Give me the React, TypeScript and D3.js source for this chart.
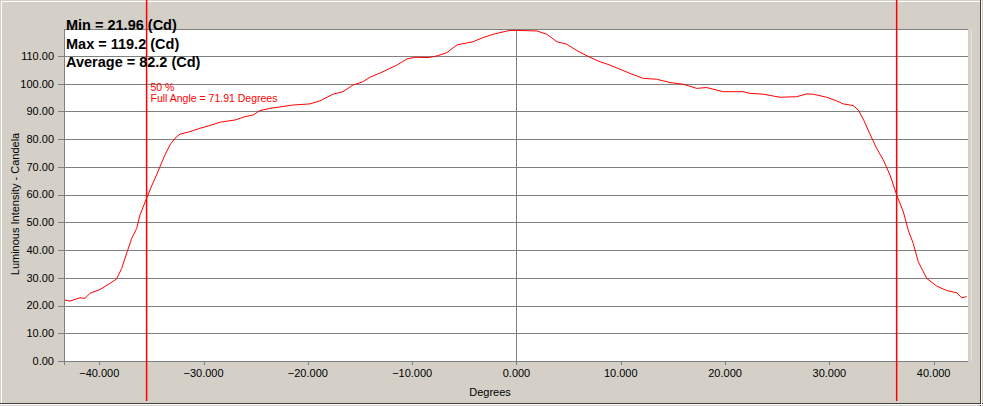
import React from "react";
import * as d3 from "d3";

const degrees = [
  -43.29, -42.81, -41.85, -41.37, -40.89, -39.93, -38.97, -38.33, -37.85, -37.32,
  -36.89, -36.41, -36.1, -35.52, -34.98, -34.5, -34.11, -33.7, -33.22, -32.74,
  -32.26, -31.3, -30.35, -29.39, -28.43, -26.99, -26.03, -25.24, -24.59, -23.63,
  -21.4, -19.8, -18.84, -17.59, -16.63, -15.68, -14.72, -14.05, -12.8, -11.46,
  -10.5, -9.73, -8.48, -7.62, -6.66, -5.7, -4.17, -3.21, -2.25, -1.1,
  -0.62, 0.05, 1.97, 2.92, 3.88, 4.84, 5.8, 7.05, 8.01, 8.96,
  9.92, 10.88, 12.16, 13.44, 14.72, 15.99, 17.28, 18.24, 19.83, 21.75,
  22.39, 23.66, 25.26, 26.86, 27.82, 28.46, 29.74, 30.7, 31.33, 32.29,
  32.77, 33.25, 33.89, 34.53, 35.17, 35.81, 36.45, 37.09, 37.56, 38.04,
  38.52, 39.33, 40.29, 41.25, 42.21, 42.68, 43.16,
];
const intensity = [
  22.0, 21.6, 22.8, 22.6, 24.4, 25.8, 28.0, 29.6, 33.4, 39.4,
  44.2, 47.8, 52.6, 58.1, 63.1, 67.1, 70.7, 74.3, 77.9, 80.3,
  81.8, 82.7, 83.9, 84.9, 86.1, 86.9, 88.1, 88.7, 90.3, 91.1,
  92.3, 92.7, 93.8, 96.2, 97.1, 99.5, 100.7, 102.3, 104.3, 106.7,
  108.9, 109.5, 109.4, 110.0, 111.2, 114.0, 115.1, 116.6, 117.8, 118.8,
  119.2, 119.2, 119.0, 117.8, 115.1, 114.2, 111.9, 109.5, 107.9, 106.7,
  105.2, 103.7, 101.9, 101.6, 100.4, 99.8, 98.3, 98.6, 97.1, 97.1,
  96.5, 96.2, 95.1, 95.3, 96.3, 96.2, 95.1, 93.8, 92.7, 92.1,
  90.5, 87.2, 81.8, 76.7, 72.5, 67.1, 59.9, 53.8, 47.2, 42.4,
  35.8, 29.8, 27.0, 25.4, 24.6, 22.8, 23.2,
];
const xTicks = [-40, -30, -20, -10, 0, 10, 20, 30, 40];
const yTicks = [0, 10, 20, 30, 40, 50, 60, 70, 80, 90, 100, 110];
const halfAngleMarkers = [-35.46, 36.45];
const statsLines = ["Min = 21.96 (Cd)", "Max = 119.2 (Cd)", "Average = 82.2 (Cd)"];
const markerLines = ["50 %", "Full Angle = 71.91 Degrees"];
const xTitle = "Degrees";
const yTitle = "Luminous Intensity - Candela";

const W = 983;
const H = 406;
const L = 64;
const R = 968;
const T = 29.3;
const B = 361;

export default function App() {
  const x = d3.scaleLinear().domain([-43.38, 43.29]).range([L, R]);
  const y = d3.scaleLinear().domain([0, 119.6]).range([B, T]);
  const pts: [number, number][] = degrees.map((d, i) => [d, intensity[i]]);
  const line = d3
    .line<[number, number]>()
    .x((d) => x(d[0]))
    .y((d) => y(d[1]));
  const fx = d3.format(".3f");
  const fy = d3.format(".2f");
  const font = "Arial, 'Liberation Sans', sans-serif";

  return (
    <svg
      width={W}
      height={H}
      style={{ position: "fixed", left: 0, top: 0, display: "block" }}
      fontFamily={font}
    >
      <rect x={0} y={0} width={W} height={H} fill="#D4D0C8" />
      {/* frame bevel */}
      <line x1={1} y1={1.5} x2={W - 2} y2={1.5} stroke="#ffffff" />
      <line x1={1.5} y1={1} x2={1.5} y2={H - 2} stroke="#ffffff" />
      <line x1={0} y1={403.5} x2={W} y2={403.5} stroke="#404040" />
      <line x1={980.5} y1={0} x2={980.5} y2={H} stroke="#404040" />
      <line x1={0} y1={404.5} x2={W} y2={404.5} stroke="#ffffff" />
      <line x1={981.5} y1={0} x2={981.5} y2={H} stroke="#ffffff" />

      {/* plot area */}
      <rect x={L} y={T} width={R - L} height={B - T} fill="#ffffff" />
      <line x1={R + 3.5} y1={T} x2={R + 3.5} y2={B} stroke="#e8e6e0" />

      {/* horizontal grid */}
      {yTicks.map((t) => (
        <g key={t}>
          <line
            x1={L - 6}
            x2={R}
            y1={Math.round(y(t)) + 0.5}
            y2={Math.round(y(t)) + 0.5}
            stroke="#808080"
          />
          <text
            x={54}
            y={y(t)}
            dy="0.35em"
            textAnchor="end"
            fontSize={11}
            fill="#000"
          >
            {fy(t)}
          </text>
        </g>
      ))}
      <line x1={L} x2={R} y1={Math.round(T) + 0.5} y2={Math.round(T) + 0.5} stroke="#808080" />
      <line x1={L + 0.5} x2={L + 0.5} y1={T} y2={B + 4} stroke="#808080" />

      {/* x ticks */}
      {xTicks.map((t) => (
        <g key={t}>
          <line
            x1={Math.round(x(t)) + 0.5}
            x2={Math.round(x(t)) + 0.5}
            y1={t === 0 ? T : B}
            y2={B + 4}
            stroke="#808080"
          />
          <text x={x(t)} y={373.5} dy="0.35em" textAnchor="middle" fontSize={11} fill="#000">
            {fx(t)}
          </text>
        </g>
      ))}
      <text x={490} y={392} dy="0.35em" textAnchor="middle" fontSize={11} fill="#000">
        {xTitle}
      </text>
      <text
        transform={`translate(15,204) rotate(-90)`}
        dy="0.35em"
        textAnchor="middle"
        fontSize={11}
        fill="#000"
      >
        {yTitle}
      </text>

      {/* curve */}
      <path d={line(pts) || ""} fill="none" stroke="#ff0000" strokeWidth={1} />

      {/* half-angle markers */}
      {halfAngleMarkers.map((m) => (
        <line
          key={m}
          x1={x(m)}
          x2={x(m)}
          y1={0}
          y2={401}
          stroke="#ff0000"
          strokeWidth={1.5}
        />
      ))}

      {/* marker labels */}
      {markerLines.map((s, i) => (
        <text key={s} x={150.5} y={90.5 + i * 11.5} fontSize={10.5} fill="#ff0000">
          {s}
        </text>
      ))}

      {/* stats */}
      {statsLines.map((s, i) => (
        <text key={s} x={66} y={30 + i * 18.5} fontSize={14.5} fontWeight="bold" fill="#000">
          {s}
        </text>
      ))}
    </svg>
  );
}
